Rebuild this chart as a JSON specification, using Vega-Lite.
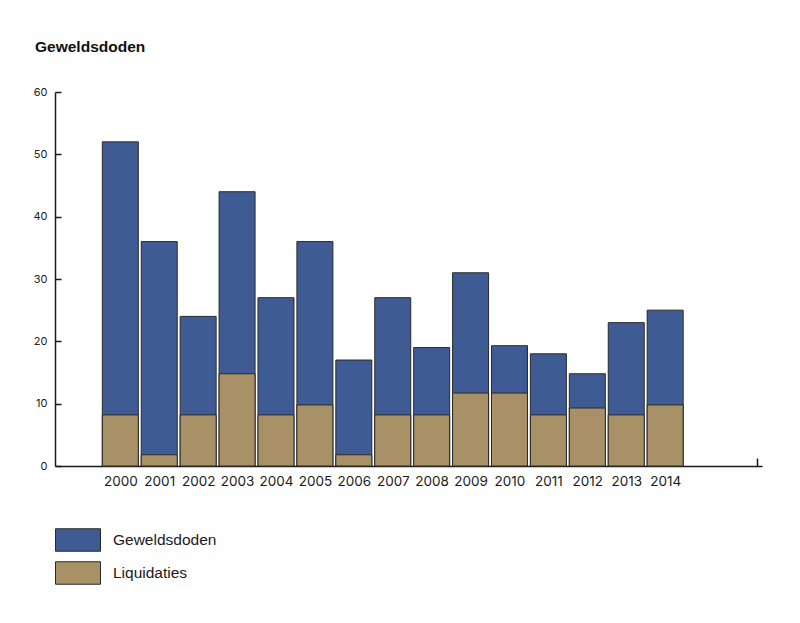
{
  "$schema": "https://vega.github.io/schema/vega-lite/v6.json",
  "width": 707,
  "height": 374,
  "autosize": "none",
  "padding": {"left": 55, "top": 92, "right": 38, "bottom": 157},
  "background": "white",
  "title": {
    "text": "Geweldsdoden",
    "anchor": "start",
    "frame": "group",
    "dx": -20,
    "offset": 31,
    "font": "Liberation Sans",
    "fontSize": 15.5,
    "fontWeight": "bold",
    "color": "#111111"
  },
  "data": {
    "values": [
      {"year": 2000, "Geweldsdoden": 52, "Liquidaties": 8.2},
      {"year": 2001, "Geweldsdoden": 36, "Liquidaties": 1.8},
      {"year": 2002, "Geweldsdoden": 24, "Liquidaties": 8.2},
      {"year": 2003, "Geweldsdoden": 44, "Liquidaties": 14.8},
      {"year": 2004, "Geweldsdoden": 27, "Liquidaties": 8.2},
      {"year": 2005, "Geweldsdoden": 36, "Liquidaties": 9.8},
      {"year": 2006, "Geweldsdoden": 17, "Liquidaties": 1.8},
      {"year": 2007, "Geweldsdoden": 27, "Liquidaties": 8.2},
      {"year": 2008, "Geweldsdoden": 19, "Liquidaties": 8.2},
      {"year": 2009, "Geweldsdoden": 31, "Liquidaties": 11.7},
      {"year": 2010, "Geweldsdoden": 19.3, "Liquidaties": 11.7},
      {"year": 2011, "Geweldsdoden": 18, "Liquidaties": 8.2},
      {"year": 2012, "Geweldsdoden": 14.8, "Liquidaties": 9.3},
      {"year": 2013, "Geweldsdoden": 23, "Liquidaties": 8.2},
      {"year": 2014, "Geweldsdoden": 25, "Liquidaties": 9.8}
    ]
  },
  "transform": [
    {"fold": ["Geweldsdoden", "Liquidaties"], "as": ["reeks", "aantal"]}
  ],
  "mark": {"type": "bar", "width": 36, "stroke": "#2a2a2a", "strokeWidth": 1},
  "encoding": {
    "x": {
      "field": "year",
      "type": "quantitative",
      "scale": {"domain": [1998.45, 2016.36], "nice": false, "zero": false},
      "axis": {
        "title": null,
        "values": [2000, 2001, 2002, 2003, 2004, 2005, 2006, 2007, 2008, 2009, 2010, 2011, 2012, 2013, 2014, 2016.36],
        "labelExpr": "datum.value > 2015 ? '' : datum.label",
        "format": "d",
        "grid": false,
        "domainColor": "#1a1a1a",
        "domainWidth": 1.5,
        "tickColor": "#1a1a1a",
        "tickWidth": 1.5,
        "tickSize": -8,
        "tickOpacity": {"condition": {"test": "datum.value > 2015", "value": 1}, "value": 0},
        "labelPadding": 16,
        "labelFont": "Inter",
        "labelFontSize": 13.5,
        "labelColor": "#1a1a1a",
        "labelFlush": false,
        "labelOverlap": false
      }
    },
    "y": {
      "field": "aantal",
      "type": "quantitative",
      "stack": null,
      "scale": {"domain": [0, 60], "nice": false},
      "axis": {
        "title": null,
        "values": [0, 10, 20, 30, 40, 50, 60],
        "grid": false,
        "domainColor": "#1a1a1a",
        "domainWidth": 1.5,
        "tickColor": "#1a1a1a",
        "tickWidth": 1.5,
        "tickSize": -6,
        "labelPadding": 14,
        "labelFont": "Inter",
        "labelFontSize": 11,
        "labelColor": "#222222"
      }
    },
    "color": {
      "field": "reeks",
      "type": "nominal",
      "scale": {"domain": ["Geweldsdoden", "Liquidaties"], "range": ["#3f5b93", "#a89067"]},
      "legend": {
        "title": null,
        "orient": "none",
        "legendX": 11,
        "legendY": 436,
        "padding": 0,
        "symbolType": "M-2,-1H2V1H-2Z",
        "symbolSize": 506,
        "symbolStrokeColor": "#2a2a2a",
        "symbolStrokeWidth": 1,
        "symbolOpacity": 1,
        "labelFont": "Liberation Sans",
        "labelFontSize": 15.5,
        "labelColor": "#1a1a1a",
        "labelOffset": 23,
        "rowPadding": 5
      }
    }
  },
  "config": {"view": {"stroke": null}}
}
